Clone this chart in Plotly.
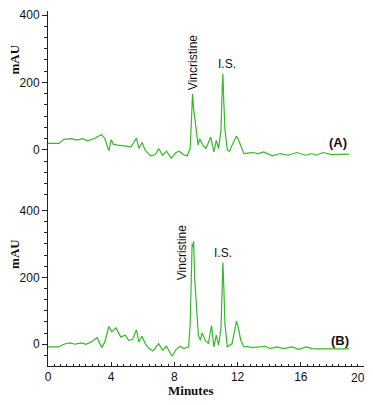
import plotly.graph_objects as go
from plotly.subplots import make_subplots

# chromatogram (A)
time_a = [0.0, 0.7, 1.0, 1.5, 1.8, 2.2, 2.5, 3.0, 3.3, 3.4, 3.6, 3.85, 4.0, 4.15, 4.4,
          4.85, 5.25, 5.6, 5.75, 5.95, 6.15, 6.5, 6.8, 7.0, 7.25, 7.5, 7.8, 8.1, 8.3,
          8.55, 8.8, 9.0, 9.08, 9.15, 9.22, 9.35, 9.5, 9.6, 9.8, 10.0, 10.3, 10.5,
          10.65, 10.8, 10.95, 11.02, 11.07, 11.12, 11.2, 11.35, 11.5, 11.65, 11.8,
          11.93, 12.05, 12.25, 12.4, 12.9, 13.3, 13.65, 14.2, 14.7, 15.2, 15.75,
          16.3, 16.7, 17.0, 17.4, 17.95, 19.05]
mau_a = [19, 19, 31, 33, 29, 33, 27, 35, 43, 45, 33, -3, 30, 16, 14,
         12, 8, 35, 4, 22, -1, -18, -14, 4, -16, -4, -25, -8, -4,
         -14, -18, 4, 90, 166, 120, 63, 14, 33, 14, 4, 38, -6,
         28, 4, 60, 180, 226, 150, 60, -1, -4, 14, 30,
         41, 30, 4, -11, -8, -11, -6, -18, -11, -16, -8,
         -16, -11, -16, -8, -14, -13]

# chromatogram (B)
time_b = [0.0, 0.65, 1.0, 1.4, 1.7, 2.1, 2.4, 2.75, 3.1, 3.4, 3.6, 3.85, 4.05, 4.3,
          4.6, 4.9, 5.1, 5.35, 5.6, 5.75, 5.95, 6.15, 6.4, 6.65, 7.0, 7.25, 7.5,
          7.85, 8.1, 8.35, 8.6, 8.9, 9.0, 9.06, 9.12, 9.17, 9.22, 9.28, 9.35, 9.45,
          9.52, 9.65, 9.75, 9.95, 10.15, 10.35, 10.5, 10.65, 10.8, 10.95, 11.02,
          11.07, 11.12, 11.2, 11.35, 11.65, 11.85, 11.93, 12.02, 12.2, 12.4, 12.6,
          12.9, 13.75, 14.05, 14.5, 14.9, 15.45, 15.85, 16.35, 16.7, 17.0, 19.05]
mau_b = [-8, -8, 0, 4, 0, 4, 0, 7, 20, -10, 7, 53, 37, 49,
         22, 27, 12, 14, 43, 7, 24, 2, -13, -20, 2, -18, -6,
         -36, -16, -6, -13, -8, 60, 190, 300, 290, 308, 200, 140, 60,
         25, 12, 34, 12, 2, 56, -8, 27, -3, 50, 170,
         244, 180, 60, -8, 2, 50, 69, 55, 12, -8, -6,
         -10, -6, -13, -8, -13, -8, -15, -8, -13, -14, -14]

x_ticks = [0, 4, 8, 12, 16, 20]
y_ticks = [0, 200, 400]

green = "#35b82a"
sans = "Liberation Sans, Arial, sans-serif"
serif = "Liberation Serif, Times New Roman, serif"

# page has an 8px body margin: keep the figure inside it (no scrollbars)
L, R, T, B = 40, 1, 0, 31
W, H = 357, 389
pw, ph = W - L - R, H - T - B

fig = make_subplots(rows=2, cols=1, shared_xaxes=True, vertical_spacing=0,
                    row_heights=[192, 166])

fig.add_trace(go.Scatter(x=time_a, y=mau_a, mode="lines",
                         line=dict(color=green, width=1.2)), row=1, col=1)
fig.add_trace(go.Scatter(x=time_b, y=mau_b, mode="lines",
                         line=dict(color=green, width=1.2)), row=2, col=1)

yax = dict(showline=True, linecolor="#222", linewidth=1, showgrid=False,
           zeroline=False, tickvals=y_ticks, ticks="outside", ticklen=5,
           tickcolor="#222", ticklabeloverflow="allow",
           tickfont=dict(family=sans, size=12, color="#111"),
           minor=dict(dtick=100 / 3, ticks="outside", ticklen=3, tickcolor="#222"))
fig.update_yaxes(yax)
fig.update_yaxes(range=[-153, 412], row=1, col=1)
fig.update_yaxes(range=[-65, 427], row=2, col=1)

# last x label is drawn as an annotation so it is not clipped at the right edge
x_text = [str(v) for v in x_ticks[:-1]] + [""]

fig.update_xaxes(range=[0, 20], showgrid=False, zeroline=False)
fig.update_xaxes(showline=False, showticklabels=False, ticks="", row=1, col=1)
fig.update_xaxes(showline=True, linecolor="#222", linewidth=1, tickvals=x_ticks,
                 ticktext=x_text, ticks="inside", ticklen=4, tickcolor="#222",
                 ticklabeloverflow="allow",
                 tickfont=dict(family=sans, size=12, color="#111"),
                 minor=dict(dtick=0.4, ticks="inside", ticklen=2, tickcolor="#222"),
                 row=2, col=1)

lab = dict(family=sans, size=12, color="#111")
bold = dict(family=sans, size=13, color="#111")
notes = [
    dict(x=9.15, y=259, xref="x", yref="y", text="Vincristine", textangle=-90, font=lab),
    dict(x=11.3, y=255, xref="x", yref="y", text="I.S.", font=lab),
    dict(x=18.36, y=21, xref="x", yref="y", text="<b>(A)</b>", font=bold),
    dict(x=8.5, y=273, xref="x2", yref="y2", text="Vincristine", textangle=-90, font=lab),
    dict(x=11.07, y=273, xref="x2", yref="y2", text="I.S.", font=lab),
    dict(x=18.5, y=12, xref="x2", yref="y2", text="<b>(B)</b>", font=bold),
    dict(x=15, y=57, xref="paper", yref="paper", text="<b>mAU</b>",
         textangle=-90, font=dict(family=serif, size=13, color="#111")),
    dict(x=15, y=253, xref="paper", yref="paper", text="<b>mAU</b>",
         textangle=-90, font=dict(family=serif, size=13, color="#111")),
    dict(x=191, y=391, xref="paper", yref="paper", text="<b>Minutes</b>",
         font=dict(family=serif, size=13, color="#111")),
    dict(x=358, y=378, xref="paper", yref="paper", text=str(x_ticks[-1]), font=lab),
]
# titles were measured in page pixels -> paper coordinates
for n in notes:
    if n["xref"] == "paper":
        n["x"] = (n["x"] - 8 - L) / pw
        n["y"] = (T + ph - (n["y"] - 8)) / ph
    n["xanchor"] = "center"
    n["yanchor"] = "middle"
    n["showarrow"] = False
fig.update_layout(annotations=notes)

fig.update_layout(width=W, height=H, showlegend=False,
                  margin=dict(l=L, r=R, t=T, b=B),
                  plot_bgcolor="white", paper_bgcolor="white")

fig.write_html("out.html")
